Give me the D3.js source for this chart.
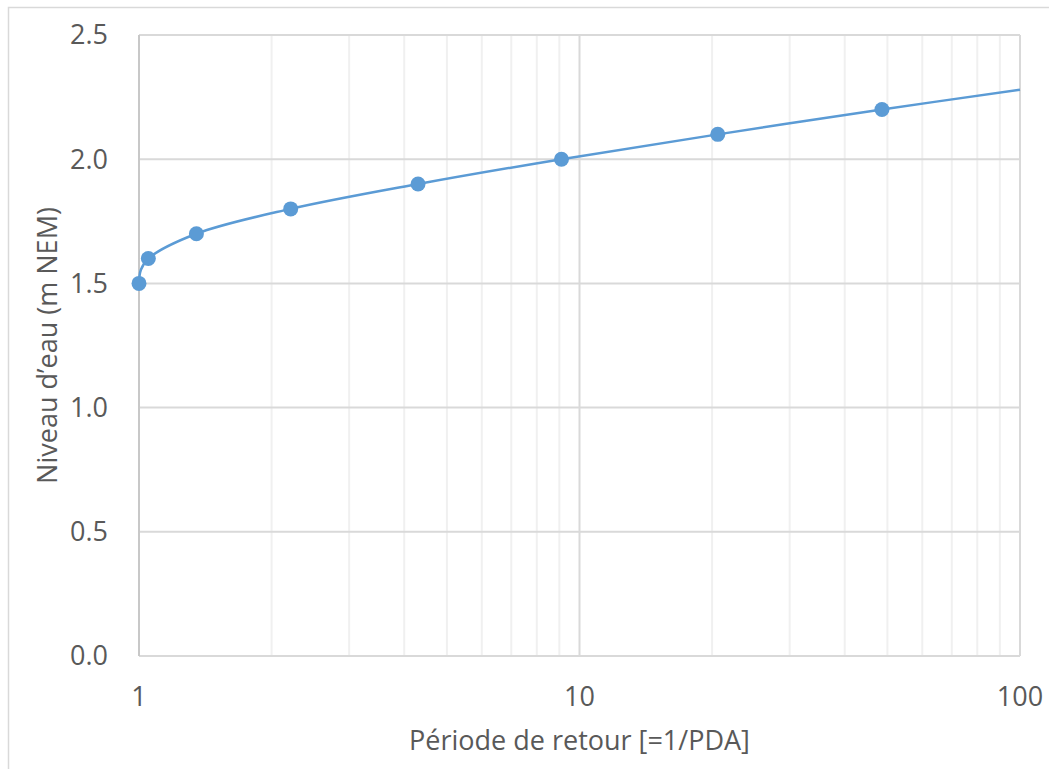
<!DOCTYPE html>
<html lang="fr">
<head>
  <meta charset="UTF-8" />
  <title>Niveau d'eau vs période de retour</title>
  <style>
    body {
      margin: 0;
      background-color: white;
      font-family: 'Open Sans', sans-serif;
    }
    svg {
      display: block;
    }
    .tick-label {
      fill: #595959;
      font-size: 27px;
    }
    .axis-title {
      fill: #595959;
      font-size: 27px;
    }
  </style>
  <script src="https://d3js.org/d3.v7.min.js"></script>
</head>
<body>
  <div id="chart"></div>

  <script>
    // observed points (return period, level)
    const periods = [1, 1.05, 1.35, 2.21, 4.3, 9.1, 20.6, 48.6];
    const levels = [1.5, 1.6, 1.7, 1.8, 1.9, 2.0, 2.1, 2.2];

    // fitted curve
    const curvePeriods = [1, 1.01, 1.05, 1.35, 2.21, 4.3, 9.1, 20.6, 48.6, 100];
    const curveLevels = [1.5, 1.555, 1.6, 1.7, 1.8, 1.9, 2.0, 2.1, 2.2, 2.28];

    const yTicks = [0, 0.5, 1.0, 1.5, 2.0, 2.5];
    const xTicks = [1, 10, 100];

    const width = 1049;
    const height = 769;
    const margin = {top: 35, right: 29, bottom: 113, left: 139};

    const blue = "#5b9bd5";

    const svg = d3.select("#chart")
      .append("svg")
      .attr("width", width)
      .attr("height", height);

    // outer chart border
    svg.append("rect")
      .attr("x", 8.5)
      .attr("y", 7.5)
      .attr("width", width)
      .attr("height", height)
      .attr("fill", "none")
      .attr("stroke", "#d9d9d9")
      .attr("stroke-width", 1.5);

    const x = d3.scaleLog()
      .domain([1, 100])
      .range([margin.left, width - margin.right]);

    const y = d3.scaleLinear()
      .domain([0, 2.5])
      .range([height - margin.bottom, margin.top]);

    // minor vertical grid
    const minor = [];
    for (let d = 1; d < 100; d *= 10) {
      for (let k = 2; k <= 9; k++) minor.push(d * k);
    }
    svg.append("g")
      .selectAll("line")
      .data(minor)
      .enter().append("line")
      .attr("x1", d => x(d))
      .attr("x2", d => x(d))
      .attr("y1", y(0))
      .attr("y2", y(2.5))
      .attr("stroke", "#f0f0f0")
      .attr("stroke-width", 2);

    // major vertical grid
    svg.append("g")
      .selectAll("line")
      .data(xTicks.slice(1))
      .enter().append("line")
      .attr("x1", d => x(d))
      .attr("x2", d => x(d))
      .attr("y1", y(0))
      .attr("y2", y(2.5))
      .attr("stroke", "#d9d9d9")
      .attr("stroke-width", 2);

    // horizontal grid
    svg.append("g")
      .selectAll("line")
      .data(yTicks)
      .enter().append("line")
      .attr("x1", x(1))
      .attr("x2", x(100))
      .attr("y1", d => y(d))
      .attr("y2", d => y(d))
      .attr("stroke", "#d9d9d9")
      .attr("stroke-width", 2);

    // left axis line
    svg.append("line")
      .attr("x1", x(1))
      .attr("x2", x(1))
      .attr("y1", y(0))
      .attr("y2", y(2.5))
      .attr("stroke", "#c8c8c8")
      .attr("stroke-width", 2);

    // y tick labels
    svg.append("g")
      .selectAll("text")
      .data(yTicks)
      .enter().append("text")
      .attr("class", "tick-label")
      .attr("x", 108)
      .attr("y", d => y(d))
      .attr("dy", "0.35em")
      .attr("text-anchor", "end")
      .text(d => d3.format(".1f")(d));

    // x tick labels
    svg.append("g")
      .selectAll("text")
      .data(xTicks)
      .enter().append("text")
      .attr("class", "tick-label")
      .attr("x", d => x(d))
      .attr("y", 697)
      .attr("dy", "0.35em")
      .attr("text-anchor", "middle")
      .text(d => d);

    // axis titles
    svg.append("text")
      .attr("class", "axis-title")
      .attr("x", x(10))
      .attr("y", 741)
      .attr("dy", "0.35em")
      .attr("text-anchor", "middle")
      .text("Période de retour [=1/PDA]");

    svg.append("text")
      .attr("class", "axis-title")
      .attr("transform", `translate(48, ${(y(0) + y(2.5)) / 2}) rotate(-90)`)
      .attr("dy", "0.35em")
      .attr("text-anchor", "middle")
      .text("Niveau d’eau (m NEM)");

    // curve
    const line = d3.line()
      .x((d, i) => x(curvePeriods[i]))
      .y(d => y(d))
      .curve(d3.curveCatmullRom.alpha(0.5));

    svg.append("path")
      .datum(curveLevels)
      .attr("d", line)
      .attr("fill", "none")
      .attr("stroke", blue)
      .attr("stroke-width", 2.5);

    // markers
    svg.append("g")
      .selectAll("circle")
      .data(levels)
      .enter().append("circle")
      .attr("cx", (d, i) => x(periods[i]))
      .attr("cy", d => y(d))
      .attr("r", 7.5)
      .attr("fill", blue);
  </script>
</body>
</html>
